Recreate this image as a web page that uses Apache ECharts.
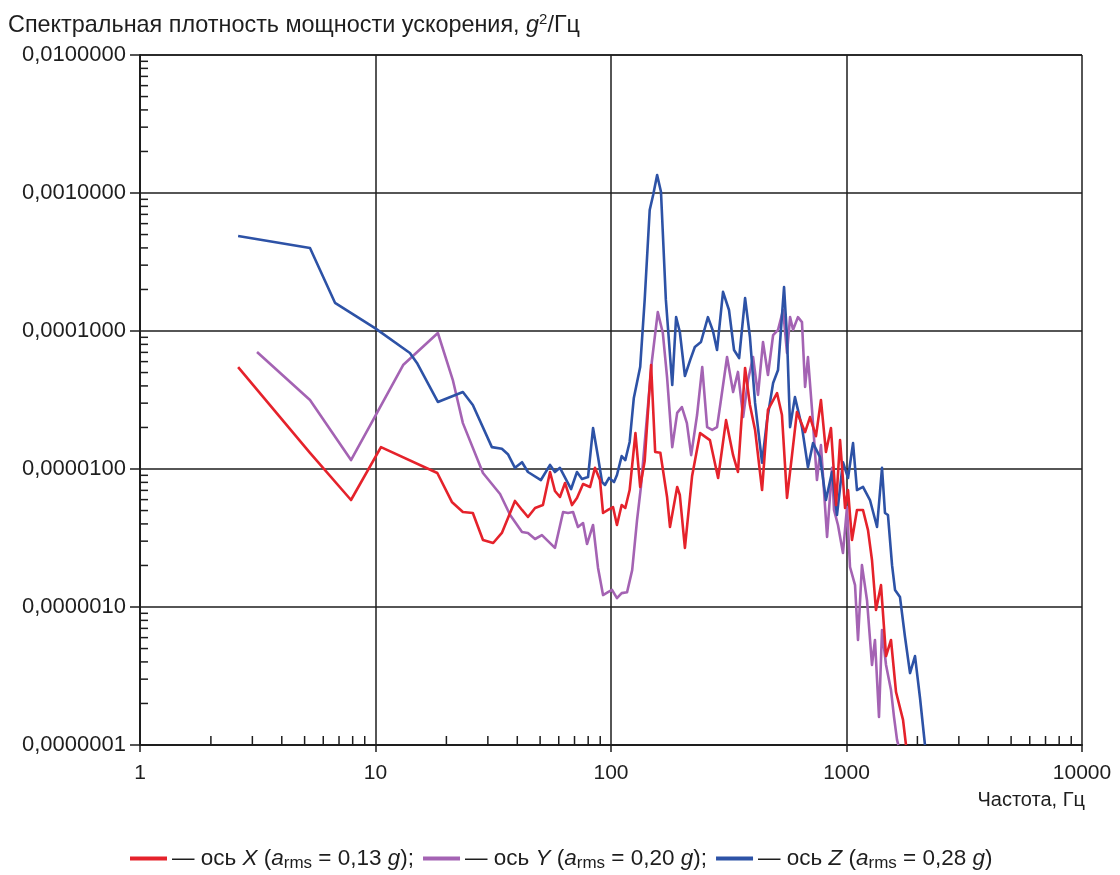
<!DOCTYPE html>
<html>
<head>
<meta charset="utf-8">
<title>Спектральная плотность мощности ускорения</title>
<script src="https://cdn.jsdelivr.net/npm/echarts@6/dist/echarts.min.js"></script>
<style>
  html, body { margin: 0; padding: 0; background: #ffffff; }
  #chart { width: 1120px; height: 875px; }
</style>
</head>
<body>
<div id="chart"></div>
<script>
// Acceleration PSD per axis: [frequency, Hz ; PSD, g^2/Hz]
const psdAxisX = [
  [2.61, 5.48e-5], [5.27, 1.31e-5], [7.87, 5.96e-6], [10.55, 1.44e-5], [18.3, 9.35e-6],
  [21.1, 5.77e-6], [23.5, 4.88e-6], [25.9, 4.80e-6], [28.6, 3.06e-6], [31.6, 2.91e-6],
  [34.4, 3.44e-6], [39.1, 5.87e-6], [41.9, 5.05e-6], [44.4, 4.49e-6], [47.6, 5.22e-6],
  [51.4, 5.48e-6], [55.1, 9.51e-6], [57.8, 6.93e-6], [60.7, 6.27e-6], [63.8, 7.92e-6],
  [68.3, 5.48e-6], [71.7, 6.17e-6], [76.1, 7.78e-6], [81.5, 7.41e-6], [85.5, 1.02e-5],
  [89.8, 8.32e-6], [92.5, 4.80e-6], [97.1, 5.05e-6], [102, 5.30e-6], [106, 3.93e-6],
  [111, 5.48e-6], [115, 5.22e-6], [120, 7.04e-6], [127, 1.82e-5], [133, 7.41e-6],
  [139, 1.14e-5], [148, 5.67e-5], [154, 1.33e-5], [162, 1.31e-5], [173, 6.27e-6],
  [178, 3.80e-6], [191, 7.41e-6], [196, 6.48e-6], [206, 2.68e-6], [221, 8.90e-6],
  [239, 1.82e-5], [263, 1.62e-5], [285, 8.61e-6], [308, 2.26e-5], [330, 1.26e-5],
  [346, 9.51e-6], [371, 5.40e-5], [389, 2.91e-5], [409, 1.92e-5], [438, 7.04e-6],
  [464, 2.68e-5], [507, 3.55e-5], [532, 2.46e-5], [559, 6.17e-6], [587, 1.26e-5],
  [616, 2.59e-5], [667, 1.85e-5], [700, 2.38e-5], [742, 1.73e-5], [779, 3.16e-5],
  [818, 1.33e-5], [859, 1.98e-5], [903, 5.48e-6], [939, 1.62e-5], [986, 5.22e-6],
  [1015, 7.04e-6], [1055, 3.06e-6], [1108, 5.05e-6], [1175, 5.05e-6], [1234, 3.61e-6],
  [1283, 2.19e-6], [1334, 9.51e-7], [1401, 1.44e-6], [1472, 4.41e-7], [1545, 5.77e-7],
  [1623, 2.42e-7], [1738, 1.52e-7], [1789, 1.0e-7]
];

const psdAxisY = [
  [3.14, 7.04e-5], [5.27, 3.16e-5], [7.87, 1.16e-5], [9.76, 2.26e-5], [13.1, 5.67e-5],
  [18.4, 9.67e-5], [21.3, 4.41e-5], [23.5, 2.15e-5], [28.6, 9.35e-6], [33.8, 6.59e-6],
  [37.3, 4.64e-6], [41.9, 3.50e-6], [44.4, 3.44e-6], [47.6, 3.11e-6], [50.9, 3.32e-6],
  [57.8, 2.68e-6], [62.6, 4.88e-6], [65.7, 4.80e-6], [69.0, 4.88e-6], [72.4, 3.80e-6],
  [76.1, 4.06e-6], [79.1, 2.86e-6], [83.9, 3.93e-6], [88.1, 1.92e-6], [92.5, 1.22e-6],
  [97.1, 1.28e-6], [101, 1.33e-6], [106, 1.16e-6], [111, 1.26e-6], [117, 1.28e-6],
  [123, 1.85e-6], [129, 4.27e-6], [134, 7.41e-6], [139, 1.54e-5], [149, 5.96e-5],
  [158, 1.37e-4], [166, 9.67e-5], [173, 4.64e-5], [182, 1.44e-5], [191, 2.55e-5],
  [200, 2.81e-5], [210, 2.15e-5], [219, 1.26e-5], [232, 2.46e-5], [244, 5.48e-5],
  [256, 2.01e-5], [269, 1.92e-5], [282, 2.01e-5], [293, 3.16e-5], [311, 6.48e-5],
  [330, 3.61e-5], [346, 5.05e-5], [364, 2.38e-5], [382, 4.41e-5], [401, 6.48e-5],
  [421, 3.44e-5], [442, 8.32e-5], [464, 4.80e-5], [488, 9.35e-5], [512, 1.02e-4],
  [538, 1.42e-4], [559, 6.93e-5], [576, 1.26e-4], [593, 1.02e-4], [622, 1.26e-4],
  [647, 1.16e-4], [667, 3.93e-5], [686, 6.48e-5], [714, 2.68e-5], [749, 8.32e-6],
  [779, 1.49e-5], [827, 3.22e-6], [868, 1.02e-5], [885, 5.05e-6], [920, 3.93e-6],
  [966, 2.46e-6], [1005, 5.30e-6], [1035, 1.95e-6], [1087, 1.44e-6], [1119, 5.77e-7],
  [1163, 2.01e-6], [1222, 1.12e-6], [1283, 3.80e-7], [1321, 5.77e-7], [1374, 1.60e-7],
  [1415, 6.81e-7], [1472, 3.80e-7], [1545, 2.50e-7], [1591, 1.60e-7], [1639, 1.09e-7],
  [1660, 1.0e-7]
];

const psdAxisZ = [
  [2.61, 4.88e-4], [5.27, 3.99e-4], [6.73, 1.60e-4], [9.95, 1.05e-4], [14.0, 6.93e-5],
  [15.0, 5.87e-5], [18.4, 3.06e-5], [23.5, 3.61e-5], [25.9, 2.91e-5], [31.2, 1.44e-5],
  [34.4, 1.40e-5], [36.5, 1.28e-5], [39.1, 1.02e-5], [41.9, 1.12e-5], [44.4, 9.51e-6],
  [50.4, 8.32e-6], [55.1, 1.07e-5], [57.8, 9.51e-6], [60.7, 1.02e-5], [67.7, 7.16e-6],
  [71.7, 9.51e-6], [75.3, 8.46e-6], [79.9, 8.75e-6], [83.9, 1.98e-5], [88.1, 1.22e-5],
  [91.6, 8.05e-6], [94.3, 7.66e-6], [98.1, 8.61e-6], [103, 8.05e-6], [106, 9.05e-6],
  [111, 1.24e-5], [115, 1.16e-5], [120, 1.57e-5], [125, 3.27e-5], [133, 5.48e-5],
  [139, 1.68e-4], [146, 7.53e-4], [151, 9.67e-4], [157, 1.35e-3], [163, 1.02e-3],
  [171, 1.68e-4], [182, 4.06e-5], [189, 1.26e-4], [196, 9.84e-5], [206, 4.72e-5],
  [217, 6.17e-5], [227, 7.66e-5], [241, 8.32e-5], [258, 1.26e-4], [271, 1.00e-4],
  [282, 7.28e-5], [299, 1.92e-4], [317, 1.42e-4], [333, 7.28e-5], [350, 6.37e-5],
  [371, 1.73e-4], [389, 9.05e-5], [409, 3.01e-5], [438, 1.11e-5], [460, 2.26e-5],
  [488, 4.20e-5], [512, 5.22e-5], [543, 2.08e-4], [559, 9.05e-5], [576, 2.01e-5],
  [604, 3.32e-5], [647, 2.01e-5], [686, 1.03e-5], [721, 1.54e-5], [772, 1.22e-5],
  [818, 5.96e-6], [868, 9.51e-6], [911, 4.64e-6], [966, 1.12e-5], [1015, 8.61e-6],
  [1066, 1.54e-5], [1108, 7.04e-6], [1175, 7.41e-6], [1258, 5.96e-6], [1348, 3.80e-6],
  [1415, 1.02e-5], [1457, 4.80e-6], [1500, 4.64e-6], [1561, 2.01e-6], [1607, 1.33e-6],
  [1687, 1.18e-6], [1772, 6.06e-7], [1861, 3.32e-7], [1954, 4.41e-7], [2052, 2.19e-7],
  [2154, 1.0e-7]
];

// Legend entries: axis letter and RMS acceleration
const axisLetters = ['X', 'Y', 'Z'];
const rmsValues = ['0,13', '0,20', '0,28'];
const seriesColors = ['#e5222b', '#a463b3', '#2d52a6'];

// Axis tick values and labels
const freqTicks = [1, 10, 100, 1000, 10000];
const freqTickLabels = ['1', '10', '100', '1000', '10000'];
const psdTicks = [1e-7, 1e-6, 1e-5, 1e-4, 1e-3, 1e-2];
const psdTickLabels = ['0,0000001', '0,0000010', '0,0000100', '0,0001000', '0,0010000', '0,0100000'];

// Minor tick decades (frequency axis has none in the 100–1000 Hz decade)
const freqMinorDecades = [1, 10, 1000];
const psdMinorDecades = [1e-7, 1e-6, 1e-5, 1e-4, 1e-3];

const FONT = '"Liberation Sans", Arial, Helvetica, sans-serif';
const INK = '#1e1e1e';

const minorTicks = [];
psdMinorDecades.forEach(d => { for (let m = 2; m <= 9; m++) minorTicks.push([1, m * d, 0]); });
freqMinorDecades.forEach(d => { for (let m = 2; m <= 9; m++) minorTicks.push([m * d, 1e-7, 1]); });

function labelFor(value, ticks, labels) {
  const lv = Math.log10(value);
  for (let i = 0; i < ticks.length; i++) {
    if (Math.abs(Math.log10(ticks[i]) - lv) < 1e-6) return labels[i];
  }
  return '';
}

const seriesNames = axisLetters.map(a => 'ось ' + a);
const seriesData = [psdAxisX, psdAxisY, psdAxisZ];

function lineSeries(i) {
  return {
    name: seriesNames[i],
    type: 'line',
    data: seriesData[i],
    showSymbol: false,
    symbol: 'none',
    smooth: false,
    animation: false,
    lineStyle: { color: seriesColors[i], width: 2.6, join: 'round' },
    itemStyle: { color: seriesColors[i] },
    z: 3
  };
}

const chart = echarts.init(document.getElementById('chart'), null, { renderer: 'canvas' });

chart.setOption({
  backgroundColor: '#ffffff',
  animation: false,
  textStyle: { fontFamily: FONT },
  title: {
    left: 3,
    top: 7,
    text: '{t|Спектральная плотность мощности ускорения, }{i|g}{s|2}{t|/Гц}',
    textStyle: {
      fontWeight: 'normal',
      rich: {
        t: { fontFamily: FONT, fontSize: 23.4, fontWeight: 'normal', color: INK, lineHeight: 27 },
        i: { fontFamily: FONT, fontSize: 23.4, fontWeight: 'normal', color: INK, fontStyle: 'italic', lineHeight: 27 },
        s: { fontFamily: FONT, fontSize: 15, fontWeight: 'normal', color: INK, verticalAlign: 'top', lineHeight: 15 }
      }
    }
  },
  legend: {
    left: 125,
    top: 842,
    icon: 'rect',
    itemWidth: 37,
    itemHeight: 4,
    itemGap: 9,
    data: seriesNames,
    formatter: name => {
      const i = seriesNames.indexOf(name);
      const tail = i === axisLetters.length - 1 ? ')' : ');';
      return '{t|— ось }{i|' + axisLetters[i] + '}{t| (}{i|a}{u|rms}{t| = ' + rmsValues[i] + ' }{i|g}{t|' + tail + '}';
    },
    textStyle: {
      fontFamily: FONT,
      fontSize: 22,
      color: INK,
      rich: {
        t: { fontFamily: FONT, fontSize: 22.5, color: INK, lineHeight: 26 },
        i: { fontFamily: FONT, fontSize: 22.5, color: INK, fontStyle: 'italic', lineHeight: 26 },
        u: { fontFamily: FONT, fontSize: 17, color: INK, verticalAlign: 'bottom', lineHeight: 17, padding: [7, 0, 0, 0] }
      }
    }
  },
  grid: { left: 140, right: 38, top: 55, bottom: 130, outerBoundsMode: 'none', containLabel: false },
  xAxis: {
    type: 'log',
    logBase: 10,
    min: 1,
    max: 10000,
    axisLine: { show: true, onZero: false, lineStyle: { color: INK, width: 2 } },
    axisTick: { show: true, inside: false, length: 7, lineStyle: { color: INK, width: 1.5 } },
    splitLine: { show: true, lineStyle: { color: INK, width: 1.5 } },
    minorTick: { show: false },
    axisLabel: {
      fontFamily: FONT, fontSize: 21, color: INK, margin: 18,
      formatter: v => labelFor(v, freqTicks, freqTickLabels)
    }
  },
  yAxis: {
    type: 'log',
    logBase: 10,
    min: 1e-7,
    max: 1e-2,
    axisLine: { show: true, onZero: false, lineStyle: { color: INK, width: 2 } },
    axisTick: { show: true, inside: false, length: 10, lineStyle: { color: INK, width: 1.5 } },
    splitLine: { show: true, lineStyle: { color: INK, width: 1.5 } },
    minorTick: { show: false },
    axisLabel: {
      fontFamily: FONT, fontSize: 22, color: INK, margin: 14,
      formatter: v => labelFor(v, psdTicks, psdTickLabels)
    }
  },
  graphic: [
    {
      type: 'text',
      right: 35,
      top: 790,
      style: { text: 'Частота, Гц', font: '20px ' + FONT, fill: INK, textAlign: 'right' }
    }
  ],
  series: [
    lineSeries(1),
    lineSeries(2),
    lineSeries(0),
    {
      name: 'minor-ticks',
      type: 'custom',
      coordinateSystem: 'cartesian2d',
      silent: true,
      animation: false,
      clip: false,
      data: minorTicks,
      encode: { x: 0, y: 1 },
      z: 4,
      renderItem: (params, api) => {
        const p = api.coord([api.value(0), api.value(1)]);
        const vertical = api.value(2) === 1;
        return {
          type: 'line',
          shape: vertical
            ? { x1: p[0], y1: p[1], x2: p[0], y2: p[1] - 9 }
            : { x1: p[0], y1: p[1], x2: p[0] + 8, y2: p[1] },
          style: { stroke: INK, lineWidth: 1.5 }
        };
      }
    }
  ]
});
</script>
</body>
</html>
